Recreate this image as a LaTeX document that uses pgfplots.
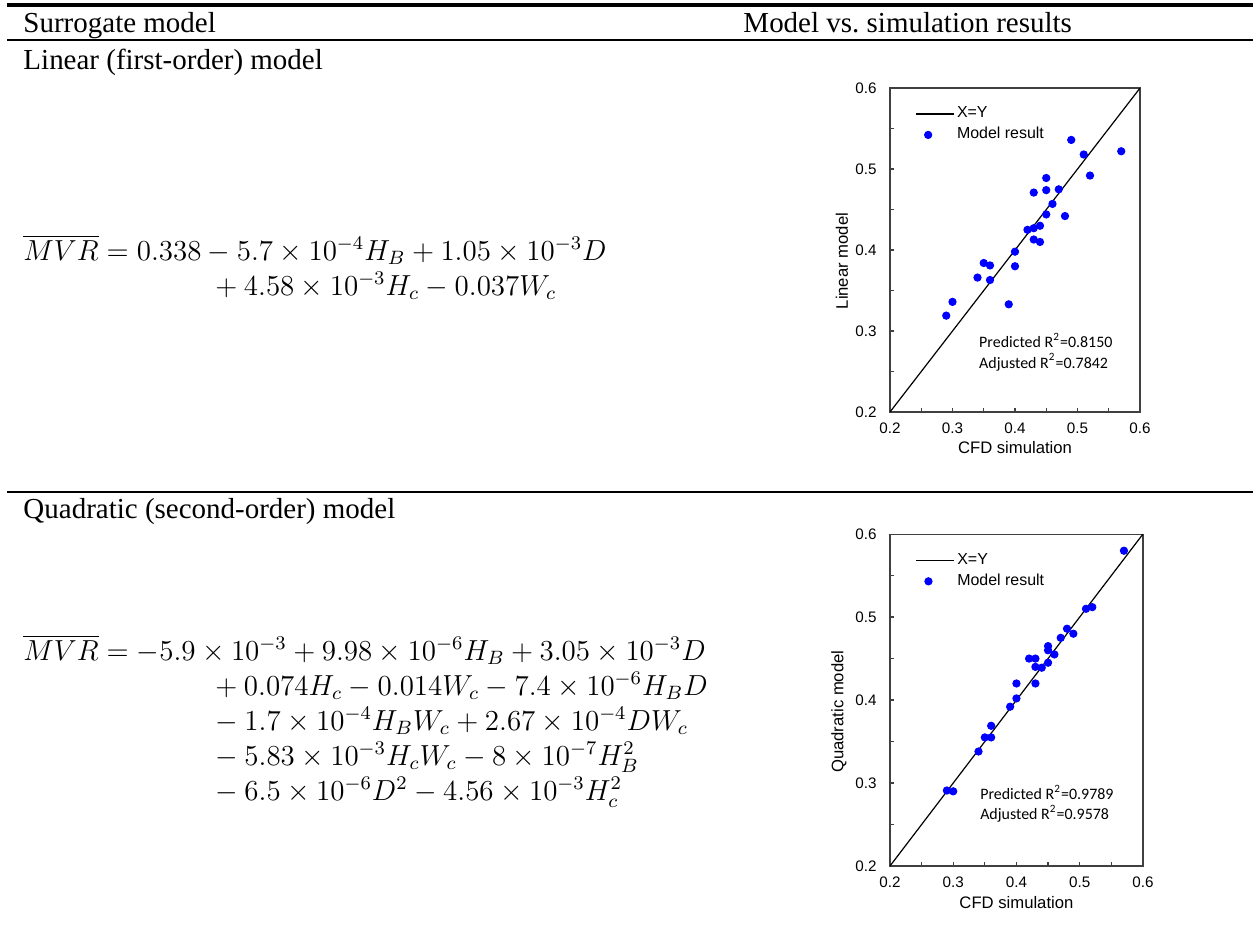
\documentclass[border=0pt]{standalone}
\usepackage{fontspec}
\setmainfont{Liberation Serif}
\newfontfamily\arialf{Liberation Sans}
\newfontfamily\calibrif{Carlito}
\usepackage{pgfplots}
\pgfplotsset{compat=1.18}

\pgfplotsset{
  parity/.style={
    scale only axis,
    xmin=0.2,xmax=0.6,ymin=0.2,ymax=0.6,
    xtick={0.2,0.3,0.4,0.5,0.6},
    ytick={0.2,0.3,0.4,0.5,0.6},
    minor tick num=1,
    tick align=inside,
    xtick pos=bottom, ytick pos=left,
    major tick length=1.6pt, minor tick length=1.6pt,
    axis line style={black!75,line width=0.5pt},
    every tick/.style={black!75,line width=0.5pt},
    tick label style={font=\arialf\fontsize{6.3}{7}\selectfont},
    /pgf/number format/assume math mode=true,
    /pgf/number format/fixed,
    /pgf/number format/precision=1,
    /pgf/number format/fixed zerofill,
    label style={font=\arialf\fontsize{6.9}{8}\selectfont},
    xticklabel style={yshift=-1pt},
    yticklabel style={xshift=-2pt},
    legend style={draw=none,fill=none,at={(0.1,0.953)},anchor=north west,
      font=\arialf\fontsize{6.6}{7.5}\selectfont,row sep=0.1pt,inner sep=0pt,
      nodes={inner sep=1.2pt}},
    legend cell align=left,
  },
  xyline/.style={black,line width=0.5pt,no marks,
    legend image code/.code={\draw (0pt,0pt) -- (15.5pt,0pt);}},
  dots/.style={only marks,mark=*,mark size=1.5pt,color=blue,fill=blue,
    legend image code/.code={\draw[only marks,mark repeat=2,mark phase=2]
      plot coordinates {(0pt,0pt) (5pt,0pt) (10pt,0pt)};}},
}

\begin{document}
\begin{tikzpicture}[x=0.414pt,y=-0.414pt,
  txt/.style={anchor=base west,inner sep=0pt,font=\fontsize{12}{14}\selectfont},
  eq/.style={txt,text height=9pt,text depth=3.4pt}]
\useasboundingbox (0,0) rectangle (1253,945);

% table rules
\draw[line width=1.6pt] (7,5) -- (1253,5);
\draw[line width=1.1pt] (7,40) -- (1253,40);
\draw[line width=1.1pt] (7,492) -- (1253,492);

\node[txt] at (23,33) {Surrogate model};
\node[txt] at (743,33) {Model vs.\ simulation results};
\node[txt] at (23,70) {Linear (first-order) model};
\node[txt] at (23,518) {Quadratic (second-order) model};

% equations
\node[eq] at (23,260) {$\overline{MVR} = 0.338 - 5.7\times10^{-4}H_B + 1.05\times10^{-3}D$};
\node[eq] at (215,295) {$+\:4.58\times10^{-3}H_c - 0.037W_c$};

\node[eq] at (23,660) {$\overline{MVR} = -5.9\times10^{-3} + 9.98\times10^{-6}H_B + 3.05\times10^{-3}D$};
\node[eq] at (215,695) {$+\:0.074H_c - 0.014W_c - 7.4\times10^{-6}H_BD$};
\node[eq] at (215,730) {$-\:1.7\times10^{-4}H_BW_c + 2.67\times10^{-4}DW_c$};
\node[eq] at (215,765) {$-\:5.83\times10^{-3}H_cW_c - 8\times10^{-7}H_B^2$};
\node[eq] at (215,800) {$-\:6.5\times10^{-6}D^2 - 4.56\times10^{-3}H_c^2$};

\coordinate (A1) at (890,412);
\coordinate (A2) at (890,866);

% linear model
\begin{axis}[parity,at={(A1)},anchor=south west,
  width=103.5pt,height=134.1pt,
  xlabel={CFD simulation},ylabel={Linear model},
  xlabel style={at={(axis description cs:0.5,-0.111)},anchor=center},
  ylabel style={at={(axis description cs:-0.192,0.466)},anchor=center}]
\addplot[xyline] coordinates {(0.2,0.2) (0.6,0.6)};
\addplot[dots] coordinates {
  (0.29,0.319) (0.30,0.336) (0.34,0.366) (0.35,0.384) (0.36,0.381)
  (0.36,0.363) (0.39,0.333) (0.40,0.398) (0.40,0.380) (0.42,0.425)
  (0.43,0.427) (0.43,0.413) (0.43,0.471) (0.44,0.430) (0.44,0.410)
  (0.45,0.444) (0.45,0.474) (0.45,0.489) (0.46,0.457) (0.47,0.475)
  (0.48,0.442) (0.49,0.536) (0.51,0.518) (0.52,0.492) (0.57,0.522)};
\legend{X=Y,Model result}
\node[anchor=west,align=left,inner sep=0pt,font=\calibrif\fontsize{6.6}{8.3}\selectfont]
  at (axis cs:0.342,0.274) {Predicted R\textsuperscript{2}=0.8150\\Adjusted R\textsuperscript{2}=0.7842};
\end{axis}

% quadratic model
\begin{axis}[parity,at={(A2)},anchor=south west,
  width=104.7pt,height=137.4pt,
  xlabel={CFD simulation},ylabel={Quadratic model},
  xlabel style={at={(axis description cs:0.5,-0.111)},anchor=center},
  ylabel style={at={(axis description cs:-0.2016,0.465)},anchor=center}]
\addplot[xyline] coordinates {(0.2,0.2) (0.6,0.6)};
\addplot[dots] coordinates {
  (0.29,0.291) (0.30,0.290) (0.34,0.338) (0.35,0.355) (0.36,0.355)
  (0.36,0.369) (0.39,0.392) (0.40,0.402) (0.40,0.420) (0.42,0.450)
  (0.43,0.450) (0.43,0.440) (0.43,0.420) (0.44,0.439) (0.45,0.445)
  (0.45,0.460) (0.45,0.465) (0.46,0.455) (0.47,0.475) (0.48,0.486)
  (0.49,0.480) (0.51,0.510) (0.52,0.512) (0.57,0.580)};
\legend{X=Y,Model result}
\node[anchor=west,align=left,inner sep=0pt,font=\calibrif\fontsize{6.6}{8.3}\selectfont]
  at (axis cs:0.342,0.275) {Predicted R\textsuperscript{2}=0.9789\\Adjusted R\textsuperscript{2}=0.9578};
\end{axis}
\end{tikzpicture}
\end{document}
